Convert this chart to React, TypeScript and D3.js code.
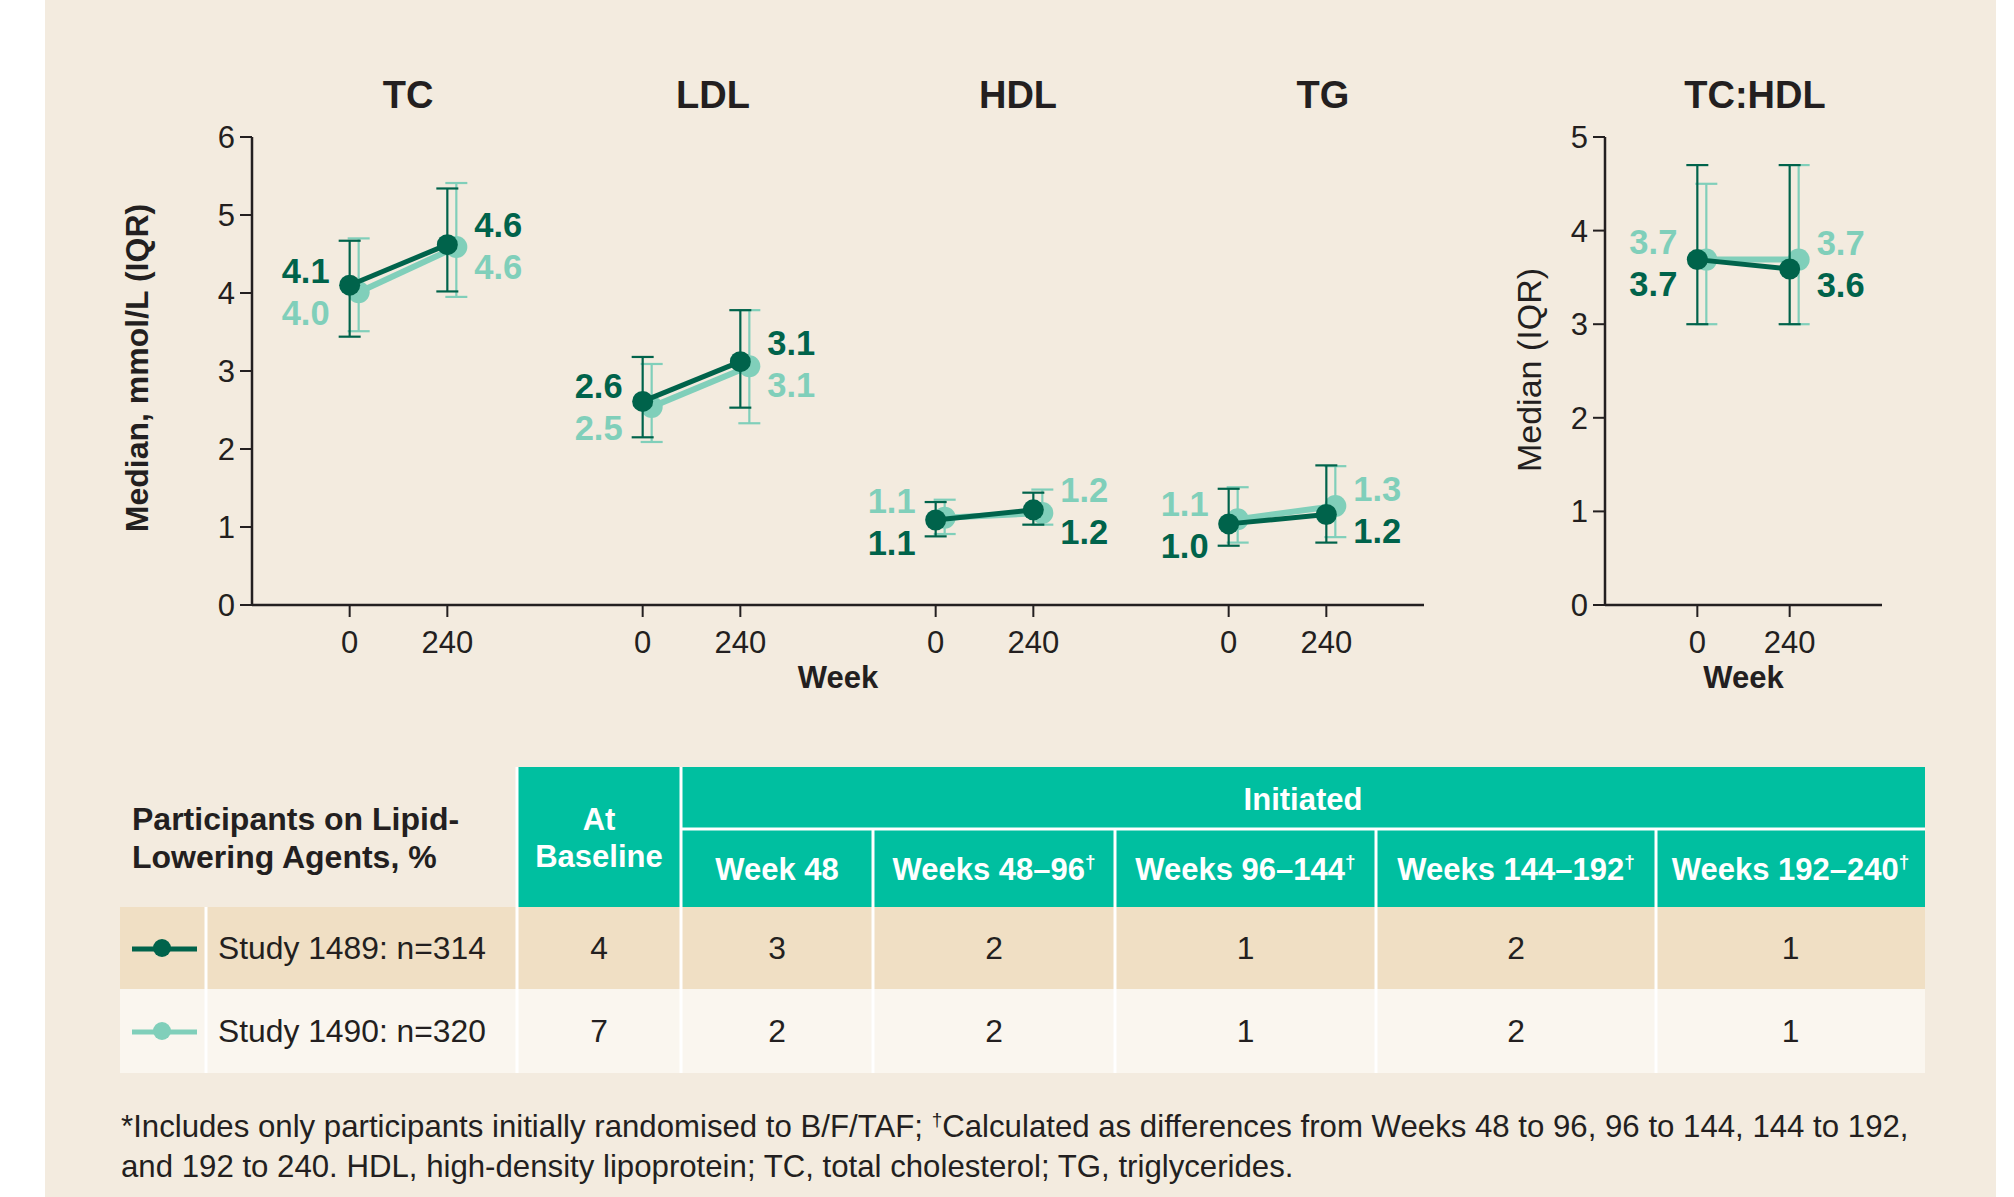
import React from "react";
import * as d3 from "d3";

// ---------- DATA ----------
const panels = ["TC", "LDL", "HDL", "TG"];
const ratioPanel = "TC:HDL";
const weeks = [0, 240];
const weekTickLabels = ["0", "240"];
const yTicksMain = [0, 1, 2, 3, 4, 5, 6];
const yTicksRatio = [0, 1, 2, 3, 4, 5];

// Study 1489 (dark) per panel [week0, week240]; last entry = TC:HDL
const median1489 = [[4.10, 4.62], [2.61, 3.12], [1.09, 1.22], [1.04, 1.16], [3.69, 3.59]];
const q1_1489 = [[3.44, 4.02], [2.15, 2.53], [0.88, 1.03], [0.76, 0.80], [3.0, 3.0]];
const q3_1489 = [[4.67, 5.34], [3.18, 3.78], [1.32, 1.44], [1.49, 1.79], [4.7, 4.7]];
const labels1489 = [["4.1", "4.6"], ["2.6", "3.1"], ["1.1", "1.2"], ["1.0", "1.2"], ["3.7", "3.6"]];

// Study 1490 (light)
const median1490 = [[4.01, 4.59], [2.54, 3.06], [1.12, 1.18], [1.10, 1.27], [3.69, 3.69]];
const q1_1490 = [[3.51, 3.95], [2.09, 2.33], [0.91, 1.03], [0.80, 0.87], [3.0, 3.0]];
const q3_1490 = [[4.70, 5.41], [3.09, 3.78], [1.35, 1.48], [1.51, 1.78], [4.5, 4.7]];
const labels1490 = [["4.0", "4.6"], ["2.5", "3.1"], ["1.1", "1.2"], ["1.1", "1.3"], ["3.7", "3.7"]];

// which series' label sits on top (0 = 1489, 1 = 1490)
const upperLabel = [[0, 0], [0, 0], [1, 1], [1, 1], [1, 1]];

// Table
const tableTitle = ["Participants on Lipid-", "Lowering Agents, %"];
const headerInitiated = "Initiated";
const headerBaseline = ["At", "Baseline"];
const headerCols = [
  { t: "Week 48", dag: false },
  { t: "Weeks 48–96", dag: true },
  { t: "Weeks 96–144", dag: true },
  { t: "Weeks 144–192", dag: true },
  { t: "Weeks 192–240", dag: true },
];
const studyNames = ["Study 1489: n=314", "Study 1490: n=320"];
const tableValues = [
  [4, 3, 2, 1, 2, 1],
  [7, 2, 2, 1, 2, 1],
];
const footnote1a = "*Includes only participants initially randomised to B/F/TAF; ";
const footnote1b = "Calculated as differences from Weeks 48 to 96, 96 to 144, 144 to 192,";
const footnote2 = "and 192 to 240. HDL, high-density lipoprotein; TC, total cholesterol; TG, triglycerides.";

// ---------- STYLE ----------
const FONT = "'Liberation Sans', Arial, Helvetica, sans-serif";
const DARK = "#00634b";
const LIGHT = "#80cfba";
const TEXT = "#231f20";
const BG = "#f3ebdf";
const TEAL = "#00bfa0";
const ROW1 = "#f0dfc4";
const ROW2 = "#faf6ef";

const W = 2014, H = 1197;
const yTop = 137, yBottom = 605;

export default function App() {
  const band = d3.scaleBand<string>().domain(panels).range([252, 1424]).padding(0);
  const bw = band.bandwidth();
  const yMain = d3.scaleLinear().domain([0, 6]).range([yBottom, yTop]);
  const yRatio = d3.scaleLinear().domain([0, 5]).range([yBottom, yTop]);
  const titleX = d3.scalePoint<string>().domain(panels).range([408, 1323]);
  const ratioX0 = 1605, ratioX1 = 1882;

  const innerX = (x0: number, w: number) =>
    d3.scaleLinear().domain([weeks[0], weeks[1]]).range([x0 + w / 3, x0 + (2 * w) / 3]);

  const series = [
    { med: median1490, q1: q1_1490, q3: q3_1490, lab: labels1490, color: LIGHT, dx: 9, r: 11, lw: 6 },
    { med: median1489, q1: q1_1489, q3: q3_1489, lab: labels1489, color: DARK, dx: 0, r: 10.5, lw: 5 },
  ];

  const renderPanel = (pi: number, xs: d3.ScaleLinear<number, number>, y: d3.ScaleLinear<number, number>) => {
    const line = d3.line<number>().x((_, i) => xs(weeks[i])).y((d) => y(d));
    const els: React.ReactNode[] = [];
    series.forEach((s, si) => {
      const meds = s.med[pi];
      els.push(
        <path key={`l${si}`} d={line(meds) as string} transform={`translate(${s.dx},0)`}
          fill="none" stroke={s.color} strokeWidth={s.lw} />
      );
      weeks.forEach((wk, wi) => {
        const cx = xs(wk) + s.dx;
        const top = y(s.q3[pi][wi]);
        const bot = y(s.q1[pi][wi]);
        els.push(
          <g key={`e${si}${wi}`} stroke={s.color} strokeWidth={2.2}>
            <line x1={cx} x2={cx} y1={top} y2={bot} />
            <line x1={cx - 11} x2={cx + 11} y1={top} y2={top} />
            <line x1={cx - 11} x2={cx + 11} y1={bot} y2={bot} />
          </g>
        );
      });
      weeks.forEach((wk, wi) => {
        els.push(<circle key={`c${si}${wi}`} cx={xs(wk) + s.dx} cy={y(meds[wi])} r={s.r} fill={s.color} />);
      });
    });
    // labels
    weeks.forEach((wk, wi) => {
      const mid = (y(median1489[pi][wi]) + y(median1490[pi][wi])) / 2;
      const topSeries = upperLabel[pi][wi];
      const order = topSeries === 0 ? [1, 0] : [0, 1]; // index into series array: 0 light, 1 dark
      const isLeft = wi === 0;
      const lx = isLeft ? xs(wk) - 20 : xs(wk) + 27;
      const ys = isLeft ? [mid - 6, mid + 36] : [mid - 9, mid + 33];
      order.forEach((sIdx, k) => {
        const s = series[sIdx];
        els.push(
          <text key={`t${wi}${k}`} x={lx} y={ys[k]} textAnchor={isLeft ? "end" : "start"}
            fontSize={34.5} fontWeight="bold" fill={s.color}>{s.lab[pi][wi]}</text>
        );
      });
    });
    return els;
  };

  const axisColor = TEXT;

  // table geometry
  const colEdges = [517, 681, 873, 1115, 1376, 1656, 1925];
  const tableLeft = 120, legendDiv = 206;
  const hdrTop = 767, hdrMid = 829, hdrBot = 907, row1Bot = 989, row2Bot = 1073;
  const rowTops = [hdrBot, row1Bot];
  const rowBots = [row1Bot, row2Bot];
  const rowFills = [ROW1, ROW2];
  const legendColors = [DARK, LIGHT];

  return (
    <svg width={W} height={H} style={{ position: "absolute", left: 0, top: 0, display: "block" }}
      fontFamily={FONT}>
      <rect x={0} y={0} width={W} height={H} fill="#ffffff" />
      <rect x={45} y={0} width={1951} height={H} fill={BG} />

      {/* Main panel axes */}
      <g>
        <line x1={252} x2={1424} y1={yBottom} y2={yBottom} stroke={axisColor} strokeWidth={2.5} />
        <line x1={252} x2={252} y1={yTop} y2={yBottom + 1} stroke={axisColor} strokeWidth={2.5} />
        {yTicksMain.map((t) => (
          <g key={t}>
            <line x1={240} x2={252} y1={yMain(t)} y2={yMain(t)} stroke={axisColor} strokeWidth={2} />
            <text x={235} y={yMain(t) + 11} textAnchor="end" fontSize={31} fill={TEXT}>{t}</text>
          </g>
        ))}
        {panels.map((p) => {
          const xs = innerX(band(p) as number, bw);
          return (
            <g key={p}>
              {weeks.map((wk, i) => (
                <g key={wk}>
                  <line x1={xs(wk)} x2={xs(wk)} y1={yBottom} y2={yBottom + 12} stroke={axisColor} strokeWidth={2} />
                  <text x={xs(wk)} y={653} textAnchor="middle" fontSize={31} fill={TEXT}>{weekTickLabels[i]}</text>
                </g>
              ))}
              <text x={titleX(p)} y={108} textAnchor="middle" fontSize={38} fontWeight="bold" fill={TEXT}>{p}</text>
            </g>
          );
        })}
        <text x={838} y={688} textAnchor="middle" fontSize={31} fontWeight="bold" fill={TEXT}>Week</text>
        <text transform="translate(148,368) rotate(-90)" textAnchor="middle" fontSize={32} fontWeight="bold" fill={TEXT}>
          Median, mmol/L (IQR)
        </text>
        {panels.map((p, pi) => (
          <g key={`d${p}`}>{renderPanel(pi, innerX(band(p) as number, bw), yMain)}</g>
        ))}
      </g>

      {/* Ratio panel */}
      <g>
        <line x1={ratioX0} x2={ratioX1} y1={yBottom} y2={yBottom} stroke={axisColor} strokeWidth={2.5} />
        <line x1={ratioX0} x2={ratioX0} y1={yTop} y2={yBottom + 1} stroke={axisColor} strokeWidth={2.5} />
        {yTicksRatio.map((t) => (
          <g key={t}>
            <line x1={ratioX0 - 12} x2={ratioX0} y1={yRatio(t)} y2={yRatio(t)} stroke={axisColor} strokeWidth={2} />
            <text x={ratioX0 - 17} y={yRatio(t) + 11} textAnchor="end" fontSize={31} fill={TEXT}>{t}</text>
          </g>
        ))}
        {(() => {
          const xs = innerX(ratioX0, ratioX1 - ratioX0);
          return (
            <g>
              {weeks.map((wk, i) => (
                <g key={wk}>
                  <line x1={xs(wk)} x2={xs(wk)} y1={yBottom} y2={yBottom + 12} stroke={axisColor} strokeWidth={2} />
                  <text x={xs(wk)} y={653} textAnchor="middle" fontSize={31} fill={TEXT}>{weekTickLabels[i]}</text>
                </g>
              ))}
              {renderPanel(4, xs, yRatio)}
            </g>
          );
        })()}
        <text x={1755} y={108} textAnchor="middle" fontSize={38} fontWeight="bold" fill={TEXT}>{ratioPanel}</text>
        <text x={(ratioX0 + ratioX1) / 2} y={688} textAnchor="middle" fontSize={31} fontWeight="bold" fill={TEXT}>Week</text>
        <text transform="translate(1541,370) rotate(-90)" textAnchor="middle" fontSize={34} fill={TEXT}>
          Median (IQR)
        </text>
      </g>

      {/* Table */}
      <g>
        <text x={132} y={830} fontSize={32} fontWeight="bold" fill={TEXT}>{tableTitle[0]}</text>
        <text x={132} y={868} fontSize={32} fontWeight="bold" fill={TEXT}>{tableTitle[1]}</text>
        <rect x={colEdges[0]} y={hdrTop} width={colEdges[6] - colEdges[0]} height={hdrBot - hdrTop} fill={TEAL} />
        {rowTops.map((t, i) => (
          <rect key={i} x={tableLeft} y={t} width={colEdges[6] - tableLeft} height={rowBots[i] - t} fill={rowFills[i]} />
        ))}
        {/* white dividers */}
        <line x1={colEdges[1]} x2={colEdges[1]} y1={hdrTop} y2={row2Bot} stroke="#fff" strokeWidth={3} />
        <line x1={colEdges[1]} x2={colEdges[6]} y1={hdrMid} y2={hdrMid} stroke="#fff" strokeWidth={3} />
        {colEdges.slice(2, 6).map((x) => (
          <line key={x} x1={x} x2={x} y1={hdrMid} y2={row2Bot} stroke="#fff" strokeWidth={3} />
        ))}
        <line x1={colEdges[0]} x2={colEdges[0]} y1={hdrTop} y2={row2Bot} stroke="#fff" strokeWidth={3} />
        <line x1={legendDiv} x2={legendDiv} y1={hdrBot} y2={row2Bot} stroke="#fff" strokeWidth={3} />

        <text x={(colEdges[0] + colEdges[1]) / 2} y={830} textAnchor="middle" fontSize={31} fontWeight="bold" fill="#fff">{headerBaseline[0]}</text>
        <text x={(colEdges[0] + colEdges[1]) / 2} y={867} textAnchor="middle" fontSize={31} fontWeight="bold" fill="#fff">{headerBaseline[1]}</text>
        <text x={(colEdges[1] + colEdges[6]) / 2} y={810} textAnchor="middle" fontSize={31} fontWeight="bold" fill="#fff">{headerInitiated}</text>
        {headerCols.map((h, i) => (
          <text key={h.t} x={(colEdges[i + 1] + colEdges[i + 2]) / 2} y={880} textAnchor="middle" fontSize={31} fontWeight="bold" fill="#fff">
            {h.t}
            {h.dag ? <tspan fontSize={19} dy={-12}>†</tspan> : null}
          </text>
        ))}

        {studyNames.map((n, ri) => {
          const cy = (rowTops[ri] + rowBots[ri]) / 2;
          return (
            <g key={n}>
              <line x1={132} x2={197} y1={cy + 1} y2={cy + 1} stroke={legendColors[ri]} strokeWidth={5} />
              <circle cx={162} cy={cy} r={9} fill={legendColors[ri]} />
              <text x={218} y={cy + 11} fontSize={31.8} fill={TEXT}>{n}</text>
              {tableValues[ri].map((v, ci) => (
                <text key={ci} x={(colEdges[ci] + colEdges[ci + 1]) / 2} y={cy + 11} textAnchor="middle" fontSize={31.8} fill={TEXT}>{v}</text>
              ))}
            </g>
          );
        })}
      </g>

      {/* Footnote */}
      <text x={121} y={1137} fontSize={31.2} fill={TEXT}>
        {footnote1a}
        <tspan fontSize={19} dy={-11}>†</tspan>
        <tspan dy={11}>{footnote1b}</tspan>
      </text>
      <text x={121} y={1177} fontSize={31.2} fill={TEXT}>{footnote2}</text>
    </svg>
  );
}
